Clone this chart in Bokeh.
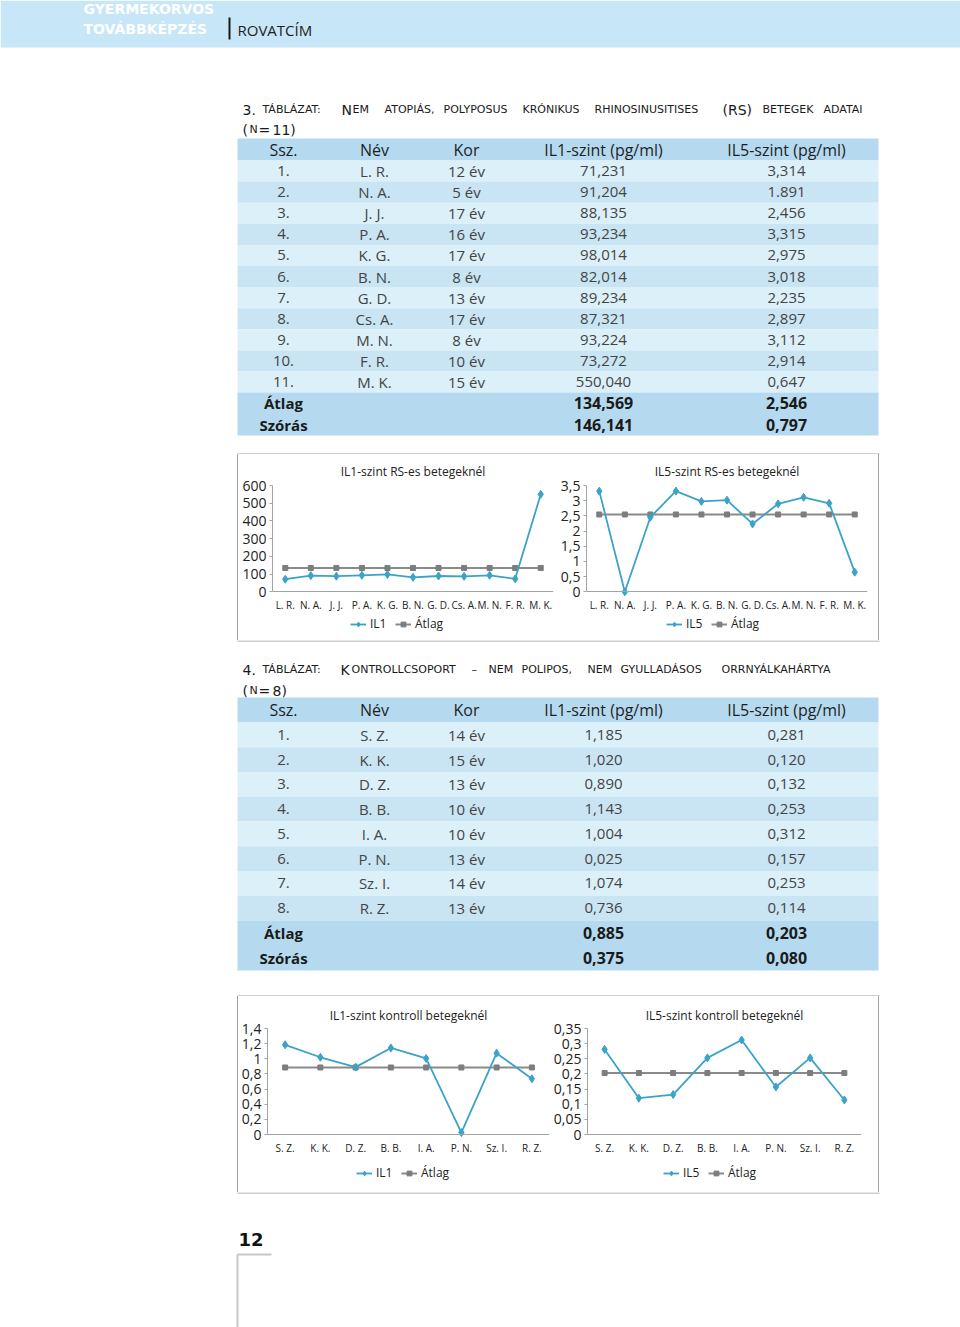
from bokeh.plotting import figure
from bokeh.layouts import column, row
from bokeh.models import (ColumnDataSource, Range1d, FactorRange, FixedTicker,
                          CustomJSTickFormatter, Legend, LegendItem, Spacer)
from bokeh.core.properties import value
from bokeh.embed import file_html
from bokeh.resources import INLINE

FONT = "Open Sans"
TFONT = "DejaVu Sans"
BLUE = "#3ba3c8"
GREY = "#8a8a8a"
AXIS = "#a3a3a3"
BOX = "#a0a0a0"
BAND = "#c7e7f8"
HEAD_BG = "#b5daef"
ROW_A = "#dcf0fa"
ROW_B = "#c9e5f4"

# ---------------- data: table 3 (RS patients) ----------------
t3_ssz = ["1.", "2.", "3.", "4.", "5.", "6.", "7.", "8.", "9.", "10.", "11."]
t3_nev = ["L. R.", "N. A.", "J. J.", "P. A.", "K. G.", "B. N.", "G. D.", "Cs. A.", "M. N.", "F. R.", "M. K."]
t3_kor = ["12 év", "5 év", "17 év", "16 év", "17 év", "8 év", "13 év", "17 év", "8 év", "10 év", "15 év"]
t3_il1 = ["71,231", "91,204", "88,135", "93,234", "98,014", "82,014", "89,234", "87,321", "93,224", "73,272", "550,040"]
t3_il5 = ["3,314", "1.891", "2,456", "3,315", "2,975", "3,018", "2,235", "2,897", "3,112", "2,914", "0,647"]
t3_atlag = ["134,569", "2,546"]
t3_szoras = ["146,141", "0,797"]

# chart values (RS)
rs_labels = ["L. R.", "N. A.", "J. J.", "P. A.", "K. G.", "B. N.", "G. D.", "Cs. A.", "M. N.", "F. R.", "M. K."]
rs_il1 = [71.231, 91.204, 88.135, 93.234, 98.014, 82.014, 89.234, 87.321, 93.224, 73.272, 550.040]
rs_il1_mean = 134.569
rs_il5 = [3.314, 0.0, 2.456, 3.315, 2.975, 3.018, 2.235, 2.897, 3.112, 2.914, 0.647]
rs_il5_mean = 2.546
rs_il1_ticks = [0, 100, 200, 300, 400, 500, 600]
rs_il5_ticks = [0, 0.5, 1, 1.5, 2, 2.5, 3, 3.5]

# ---------------- data: table 4 (control) ----------------
t4_ssz = ["1.", "2.", "3.", "4.", "5.", "6.", "7.", "8."]
t4_nev = ["S. Z.", "K. K.", "D. Z.", "B. B.", "I. A.", "P. N.", "Sz. I.", "R. Z."]
t4_kor = ["14 év", "15 év", "13 év", "10 év", "10 év", "13 év", "14 év", "13 év"]
t4_il1 = ["1,185", "1,020", "0,890", "1,143", "1,004", "0,025", "1,074", "0,736"]
t4_il5 = ["0,281", "0,120", "0,132", "0,253", "0,312", "0,157", "0,253", "0,114"]
t4_atlag = ["0,885", "0,203"]
t4_szoras = ["0,375", "0,080"]

ctrl_labels = ["S. Z.", "K. K.", "D. Z.", "B. B.", "I. A.", "P. N.", "Sz. I.", "R. Z."]
ctrl_il1 = [1.185, 1.020, 0.890, 1.143, 1.004, 0.025, 1.074, 0.736]
ctrl_il1_mean = 0.885
ctrl_il5 = [0.281, 0.120, 0.132, 0.253, 0.312, 0.157, 0.253, 0.114]
ctrl_il5_mean = 0.203
ctrl_il1_ticks = [0, 0.2, 0.4, 0.6, 0.8, 1, 1.2, 1.4]
ctrl_il5_ticks = [0, 0.05, 0.1, 0.15, 0.2, 0.25, 0.3, 0.35]

table_head = ["Ssz.", "Név", "Kor", "IL1-szint (pg/ml)", "IL5-szint (pg/ml)"]
COLS = [283, 374, 466, 603, 786]
BOX_L, BOX_R = 237, 879


def page_fig(y0, y1):
    p = figure(width=960, height=y1 - y0, x_range=Range1d(0, 960), y_range=Range1d(y1, y0),
               x_axis_location=None, y_axis_location=None, tools="", toolbar_location=None,
               output_backend="svg", min_border=0)
    p.grid.visible = False
    p.outline_line_color = None
    p.background_fill_color = "white"
    p.border_fill_color = "white"
    return p


def txt(p, xs, ys, texts, size, color, align="center", font=FONT, style="normal", baseline="middle"):
    p.text(x=xs, y=ys, text=texts, text_font=value(font), text_font_size=size,
           text_color=color, text_align=align, text_baseline=baseline, text_font_style=style)


def hborder(p, y):
    p.line(x=[BOX_L, BOX_R], y=[y, y], line_color=BOX, line_width=1)


def draw_table(p, top, hh, rh, sh, ssz, nev, kor, il1, il5, atl, szo):
    n = len(ssz)
    L, R = 237, 878
    p.quad(left=[L], right=[R], top=[top], bottom=[top + hh], fill_color=HEAD_BG, line_color=None)
    ytop = [top + hh + i * rh for i in range(n)]
    p.quad(left=[L] * n, right=[R] * n, top=ytop, bottom=[y + rh for y in ytop],
           fill_color=[ROW_A if i % 2 == 0 else ROW_B for i in range(n)], line_color=None)
    sy = top + hh + n * rh
    p.quad(left=[L], right=[R], top=[sy], bottom=[sy + 2 * sh], fill_color=HEAD_BG, line_color=None)
    txt(p, COLS, [top + hh / 2] * 5, table_head, "16px", "#1f1f1f")
    yc = [y + rh / 2 for y in ytop]
    for cx, col in zip(COLS, [ssz, nev, kor, il1, il5]):
        txt(p, [cx] * n, yc, col, "15px", "#444444")
    ys = [sy + sh / 2, sy + 1.5 * sh]
    txt(p, [COLS[0]] * 2, ys, ["Átlag", "Szórás"], "15px", "#1a1a1a", style="bold")
    txt(p, [COLS[3]] * 2, ys, [atl[0], szo[0]], "16px", "#1a1a1a", style="bold")
    txt(p, [COLS[4]] * 2, ys, [atl[1], szo[1]], "16px", "#1a1a1a", style="bold")


def caption(p, y, segs):
    for t, x, big in segs:
        txt(p, [x], [y], [t], "14px" if big else "11px", "#1a1a1a", align="left",
            font=TFONT, baseline="alphabetic")


def chart(factors, vals, mean, ticks, title, name, w, h, mb, zero_px, title_standoff, title_offset, leg_loc):
    # frame runs from mb_top down to the figure bottom; the value 0 sits zero_px below the figure top
    frame_top = mb[2]
    ymax = ticks[-1]
    px_per_unit = (zero_px - frame_top) / ymax
    ymin = -(h - zero_px) / px_per_unit
    p = figure(width=w, height=h, x_range=FactorRange(factors=factors),
               y_range=Range1d(ymin, ymax), tools="", toolbar_location=None,
               output_backend="svg", title=title,
               min_border_left=mb[0], min_border_right=mb[1], min_border_top=mb[2], min_border_bottom=0)
    p.grid.visible = False
    p.outline_line_color = None
    p.title.align = "center"
    p.title.text_font = FONT
    p.title.text_font_style = "normal"
    p.title.text_font_size = "12px"
    p.title.text_color = "#222222"
    p.title.standoff = title_standoff
    p.title.offset = title_offset
    p.yaxis.ticker = FixedTicker(ticks=ticks)
    p.yaxis.bounds = (ticks[0], ymax)
    p.yaxis.formatter = CustomJSTickFormatter(code="return String(tick).replace('.', ',')")
    p.yaxis.major_label_text_font = FONT
    p.yaxis.major_label_text_font_size = "14px"
    p.yaxis.major_label_text_color = "#222222"
    p.yaxis.axis_line_color = AXIS
    p.yaxis.major_tick_line_color = AXIS
    p.yaxis.major_tick_out = 3
    p.yaxis.major_tick_in = 0
    p.yaxis.minor_tick_line_color = None
    p.yaxis.major_label_standoff = 3
    p.xaxis.fixed_location = 0
    p.xaxis.major_label_text_font = FONT
    p.xaxis.major_label_text_font_size = "10px"
    p.xaxis.major_label_text_color = "#222222"
    p.xaxis.axis_line_color = AXIS
    p.xaxis.major_tick_line_color = None
    p.xaxis.minor_tick_line_color = None
    p.xaxis.major_label_standoff = 0
    src = ColumnDataSource(dict(x=factors, y=vals, m=[mean] * len(factors)))
    r3 = p.line("x", "m", source=src, line_color=GREY, line_width=2)
    r4 = p.scatter("x", "m", source=src, marker="square", size=5, fill_color="#7d7d7d", line_color="#7d7d7d")
    r1 = p.line("x", "y", source=src, line_color=BLUE, line_width=1.8)
    r2 = p.scatter("x", "y", source=src, marker="diamond", size=8, fill_color=BLUE, line_color=BLUE)
    legend = Legend(items=[LegendItem(label=name, renderers=[r1, r2]),
                           LegendItem(label="Átlag", renderers=[r3, r4])],
                    orientation="horizontal", location=leg_loc,
                    label_text_font=FONT, label_text_font_size="12px", label_text_color="#222222",
                    glyph_width=16, glyph_height=12, label_height=12, label_standoff=4,
                    spacing=5, padding=2, margin=0, border_line_color=None, background_fill_alpha=0)
    p.add_layout(legend, "center")
    return p


def vborder(h):
    return Spacer(width=1, height=h, styles={"background-color": BOX})


# ---------------- top section: header band + table 3 ----------------
top = page_fig(0, 454)
top.quad(left=[0], right=[960], top=[0], bottom=[47], fill_color=BAND, line_color=None)
txt(top, [83, 83], [8, 28], ["GYERMEKORVOS", "TOVÁBBKÉPZÉS"], "14px", "white",
    align="left", font=TFONT, style="bold")
top.quad(left=[228], right=[230], top=[17], bottom=[39], fill_color="#1a1a1a", line_color=None)
txt(top, [237], [29], ["ROVATCÍM"], "15px", "#222222", align="left")
caption(top, 109, [("3.", 242, True), ("TÁBLÁZAT:", 262, False), ("N", 341, True), ("EM", 352, False),
                   ("ATOPIÁS,", 384, False), ("POLYPOSUS", 443, False), ("KRÓNIKUS", 522, False),
                   ("RHINOSINUSITISES", 594, False), ("(RS)", 722, True), ("BETEGEK", 762, False),
                   ("ADATAI", 823, False)])
caption(top, 129, [("(", 242, True), ("N", 249, False), ("=", 258, True), ("11)", 272, True)])
draw_table(top, 138, 22, 21.1, 21.5, t3_ssz, t3_nev, t3_kor, t3_il1, t3_il5, t3_atlag, t3_szoras)
hborder(top, 453.5)

# ---------------- chart row 1 ----------------
fa = chart(rs_labels, rs_il1, rs_il1_mean, rs_il1_ticks, "IL1-szint RS-es betegeknél", "IL1",
           319, 186, (34, 4, 30), 137, 12, -3, (78, 8))
fb = chart(rs_labels, rs_il5, rs_il5_mean, rs_il5_ticks, "IL5-szint RS-es betegeknél", "IL5",
           321, 186, (28, 11, 30), 137, 12, -4, (80, 8))
row1 = row(Spacer(width=237, height=186), vborder(186), fa, fb, vborder(186))

# ---------------- middle section: table 4 ----------------
mid = page_fig(640, 996)
hborder(mid, 640.5)
caption(mid, 669, [("4.", 242, True), ("TÁBLÁZAT:", 262, False), ("K", 340, True),
                   ("ONTROLLCSOPORT", 351, False), ("–", 471, False), ("NEM", 488, False),
                   ("POLIPOS,", 521, False), ("NEM", 587, False), ("GYULLADÁSOS", 620, False),
                   ("ORRNYÁLKAHÁRTYA", 721, False)])
caption(mid, 690, [("(", 242, True), ("N", 249, False), ("=", 258, True), ("8)", 272, True)])
draw_table(mid, 697, 25, 24.75, 25, t4_ssz, t4_nev, t4_kor, t4_il1, t4_il5, t4_atlag, t4_szoras)
hborder(mid, 995.5)

# ---------------- chart row 2 ----------------
fc = chart(ctrl_labels, ctrl_il1, ctrl_il1_mean, ctrl_il1_ticks, "IL1-szint kontroll betegeknél", "IL1",
           312, 196, (29, 1, 32), 138, 9, 6, (89, 11))
fd = chart(ctrl_labels, ctrl_il5, ctrl_il5_mean, ctrl_il5_ticks, "IL5-szint kontroll betegeknél", "IL5",
           328, 196, (35, 17, 32), 138, 9, 3, (76, 11))
row2 = row(Spacer(width=237, height=196), vborder(196), fc, fd, vborder(196))

# ---------------- bottom: page number ----------------
bot = page_fig(1192, 1327)
hborder(bot, 1192.5)
txt(bot, [238], [1239], ["12"], "18px", "#111111", align="left", font=TFONT, style="bold")
bot.line(x=[237, 271], y=[1254, 1254], line_color="#c8c8c8", line_width=2)
bot.line(x=[237, 237], y=[1254, 1330], line_color="#c8c8c8", line_width=2)

page = column(top, row1, mid, row2, bot)

open("out.html", "w").write(file_html(page, INLINE, "chart"))
